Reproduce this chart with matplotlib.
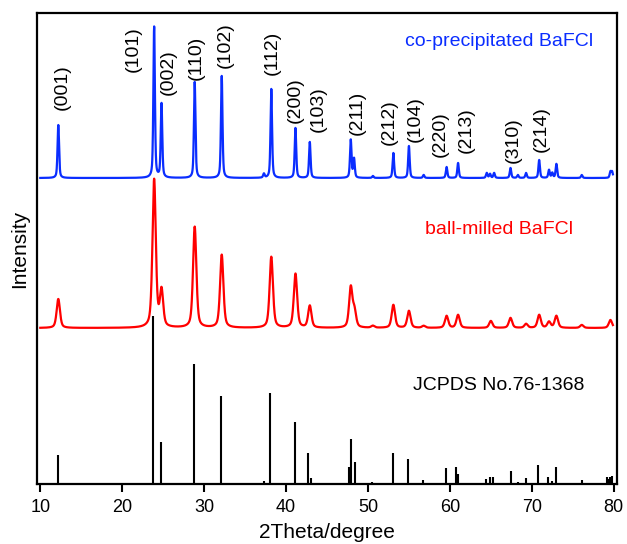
import numpy as np
import matplotlib
matplotlib.use("Agg")
import matplotlib.pyplot as plt

plt.rcParams['font.family'] = ['Liberation Sans', 'DejaVu Sans']

# ---- data (intensities in arbitrary units) ----
# JCPDS No.76-1368 reference sticks
ref_pos = [12.2, 23.8, 24.7, 28.8, 32.1, 37.3, 38.1, 41.1, 42.7, 43.0, 47.7, 47.9,
           48.4, 50.5, 53.0, 54.9, 56.7, 59.5, 60.8, 61.0, 64.4, 64.9, 65.3,
           67.4, 68.3, 69.3, 70.8, 72.0, 72.5, 72.9, 76.1, 79.2, 79.4, 79.6, 79.8]
ref_int = [29, 168, 42, 120, 88, 3, 91, 62, 31, 6, 17, 45,
           22, 2, 31, 25, 4, 16, 17, 10, 5, 7, 7,
           13, 2, 6, 19, 7, 3, 17, 4, 7, 5, 7, 8]

# co-precipitated BaFCl peaks
cop_pos = [12.2, 23.9, 24.8, 28.85, 32.15, 37.3, 38.2, 41.15, 42.9, 47.9, 48.3,
           50.6, 53.1, 55.0, 56.8, 59.6, 61.0, 64.5, 64.9, 65.4, 67.4, 68.3,
           69.3, 70.9, 72.1, 72.5, 73.0, 76.1, 79.6, 79.8]
cop_int = [53, 151, 74, 96, 102, 4, 89, 50, 36, 38, 19,
           2, 25, 32, 3, 11, 15, 5, 4, 5, 10, 3,
           5, 18, 8, 5, 14, 3, 6, 6]

# ball-milled BaFCl peaks
bm_pos = [12.2, 23.9, 24.8, 28.85, 32.15, 38.2, 41.15, 42.9, 47.9, 48.35,
          50.6, 53.1, 55.0, 56.8, 59.6, 61.0, 65.0, 67.4, 69.3, 70.9,
          72.1, 73.0, 76.1, 79.6]
bm_int = [29, 148, 36, 101, 73, 71, 54, 22, 40, 16,
          2, 23, 17, 2, 12, 13, 7, 10, 4, 13,
          6, 12, 3, 8]

miller = ['(001)', '(101)', '(002)', '(110)', '(102)', '(112)', '(200)', '(103)',
          '(211)', '(212)', '(104)', '(220)', '(213)', '(310)', '(214)']
miller_pos = [12.65, 21.3, 25.6, 29.1, 32.55, 38.3, 41.1, 43.9,
              48.65, 52.55, 55.75, 58.8, 61.95, 67.7, 71.1]
miller_base = [374, 412, 389, 404, 416, 409, 361, 352, 349, 339, 342, 327, 331, 321, 332]

cop_offset = 306
bm_offset = 156


def profile(x, pos, inten, w):
    y = np.zeros_like(x)
    for p, h in zip(pos, inten):
        lor = 1.0 / (1.0 + ((x - p) / (w / 2)) ** 2)
        gau = np.exp(-np.log(2) * ((x - p) / (w / 2)) ** 2)
        y += h * (0.5 * lor + 0.5 * gau)
    return y


x = np.linspace(10.0, 79.9, 6000)
y_cop = profile(x, cop_pos, cop_int, 0.22) + cop_offset
y_bm = profile(x, bm_pos, bm_int, 0.48) + bm_offset

fig = plt.figure(figsize=(6.27, 5.44), dpi=100)
ax = fig.add_axes([37 / 627, 60 / 544, 580 / 627, 471 / 544])

ax.plot(x, y_cop, color='#0a2dff', lw=1.6)
ax.plot(x, y_bm, color='#ff0000', lw=1.6)
ax.vlines(ref_pos, 0, ref_int, color='black', lw=1.5)

for lab, px, py in zip(miller, miller_pos, miller_base):
    ax.text(px, py, lab, rotation=90, ha='center', va='bottom', fontsize=14)

ax.text(66.0, 442, 'co-precipitated BaFCl', color='#0a2dff', fontsize=14,
        ha='center', va='center')
ax.text(66.0, 254, 'ball-milled BaFCl', color='#ff0000', fontsize=14,
        ha='center', va='center')
ax.text(66.0, 99, 'JCPDS No.76-1368', color='black', fontsize=14,
        ha='center', va='center')

ax.set_xlim(9.6, 80.4)
ax.set_ylim(0, 471)
ax.set_yticks([])
ax.set_xticks([10, 20, 30, 40, 50, 60, 70, 80])
ax.tick_params(axis='x', direction='out', length=6, width=1.5, labelsize=13, pad=5)
for s in ax.spines.values():
    s.set_linewidth(1.6)
ax.set_xlabel('2Theta/degree', fontsize=15, labelpad=5)
ax.set_ylabel('Intensity', fontsize=15, labelpad=6)

fig.savefig('out.png', dpi=100)
